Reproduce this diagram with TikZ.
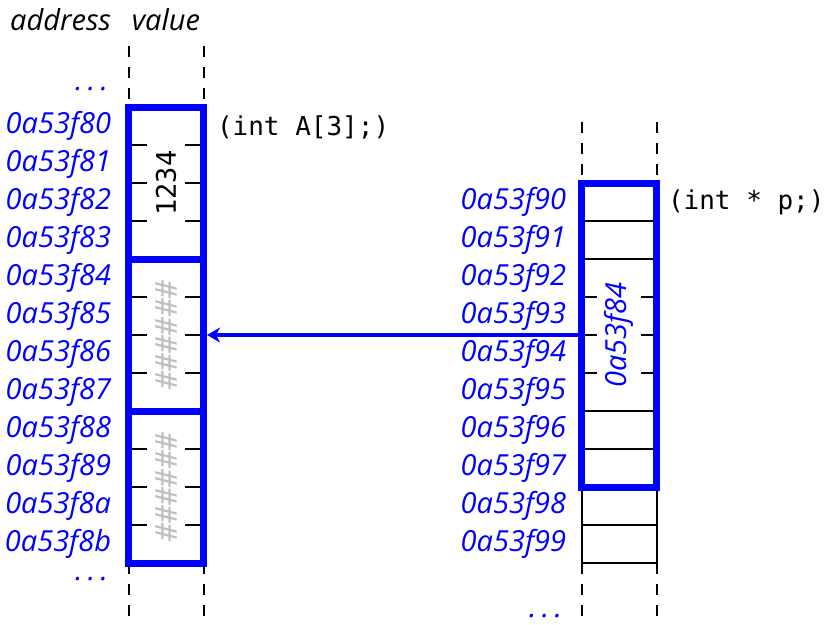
\documentclass[tikz,border=0pt]{standalone}
\usepackage{fontspec}
\setmainfont{Open Sans}
\setmonofont{DejaVu Sans Mono}
\usetikzlibrary{arrows.meta}
\definecolor{hashgray}{RGB}{190,190,190}

\begin{document}
\begin{tikzpicture}[x=1pt, y=-1pt, inner sep=0pt, outer sep=0pt,
    addr/.style={anchor=base east, text=blue, font=\fontsize{29}{34}\selectfont\itshape},
    hdr/.style={anchor=base, font=\fontsize{29}{34}\selectfont\itshape},
    decl/.style={anchor=base west, font=\fontsize{26}{31}\selectfont\ttfamily},
    valtxt/.style={rotate=90, font=\fontsize{27}{32}\selectfont\ttfamily},
    junk/.style={rotate=90, text=hashgray, font=\fontsize{30}{36}\selectfont\ttfamily},
    memblk/.style={draw=blue, line width=7pt, outer sep=3.5pt, minimum width=75pt},
    memline/.style={line width=2pt},
    dashcol/.style={line width=2pt, dash pattern=on 11pt off 10pt},
    ptr/.style={draw=blue, line width=3.5pt, -{Stealth[length=13pt, width=15pt, inset=4pt]}}]
    \useasboundingbox (0,0) rectangle (826,624);

    % headers
    \node[hdr, anchor=base east] (addr_hd) at (111,30) {address};
    \node[hdr] (val_hd) at (166,30) {value};

    % int A[3]
    \draw[dashcol] (128.5,46) -- (128.5,107) (203.5,46) -- (203.5,107);
    \draw[dashcol] (128.5,563) -- (128.5,624) (203.5,563) -- (203.5,624);
    \foreach \y in {145,183,221,297,335,373,449,487,525}
        \draw[memline] (128.5,\y) -- (147,\y) (185,\y) -- (203.5,\y);
    \node[memblk, minimum height=152pt] (A0) at (166,183) {};
    \node[memblk, minimum height=152pt] (A1) at (166,335) {};
    \node[memblk, minimum height=152pt] (A2) at (166,487) {};
    \node[valtxt] (A0_val) at (A0.center) {1234};
    \node[junk] (A1_val) at (A1.center) {\#\#\#\#\#\#};
    \node[junk] (A2_val) at (A2.center) {\#\#\#\#\#\#};
    \node[decl] (A_decl) at (217,135) {(int A[3];)};

    % addresses of A
    \node[addr] (A_dots_top) at (108,90) {.\hspace{5.5pt}.\hspace{5.5pt}.};
    \foreach \d [count=\i from 0] in {0,1,2,3,4,5,6,7,8,9,a,b}
        \node[addr] (A_addr\d) at (111,133+38*\i) {0a53f8\d};
    \node[addr] (A_dots_bot) at (108,580) {.\hspace{5.5pt}.\hspace{5.5pt}.};

    % int * p
    \draw[dashcol] (581.5,122) -- (581.5,183) (656.5,122) -- (656.5,183);
    \draw[memline] (581.5,183) -- (581.5,563) (656.5,183) -- (656.5,563);
    \draw[dashcol] (581.5,563) -- (581.5,624) (656.5,563) -- (656.5,624);
    \foreach \y in {221,259,411,449,525,563}
        \draw[memline] (581.5,\y) -- (656.5,\y);
    \foreach \y in {297,335,373}
        \draw[memline] (581.5,\y) -- (597,\y) (641,\y) -- (656.5,\y);
    \node[memblk, minimum height=304pt] (p) at (619,335) {};
    \node[addr, anchor=center, rotate=90] (p_val) at (p.center) {0a53f84};
    \node[decl] (p_decl) at (668,209) {(int * p;)};

    % addresses of p
    \foreach \d [count=\i from 0] in {0,1,2,3,4,5,6,7,8,9}
        \node[addr] (p_addr\d) at (566,209+38*\i) {0a53f9\d};
    \node[addr] (p_dots) at (562,617) {.\hspace{5.5pt}.\hspace{5.5pt}.};

    % pointer
    \draw[ptr] (p.west) -- (A1.east);
\end{tikzpicture}
\end{document}
